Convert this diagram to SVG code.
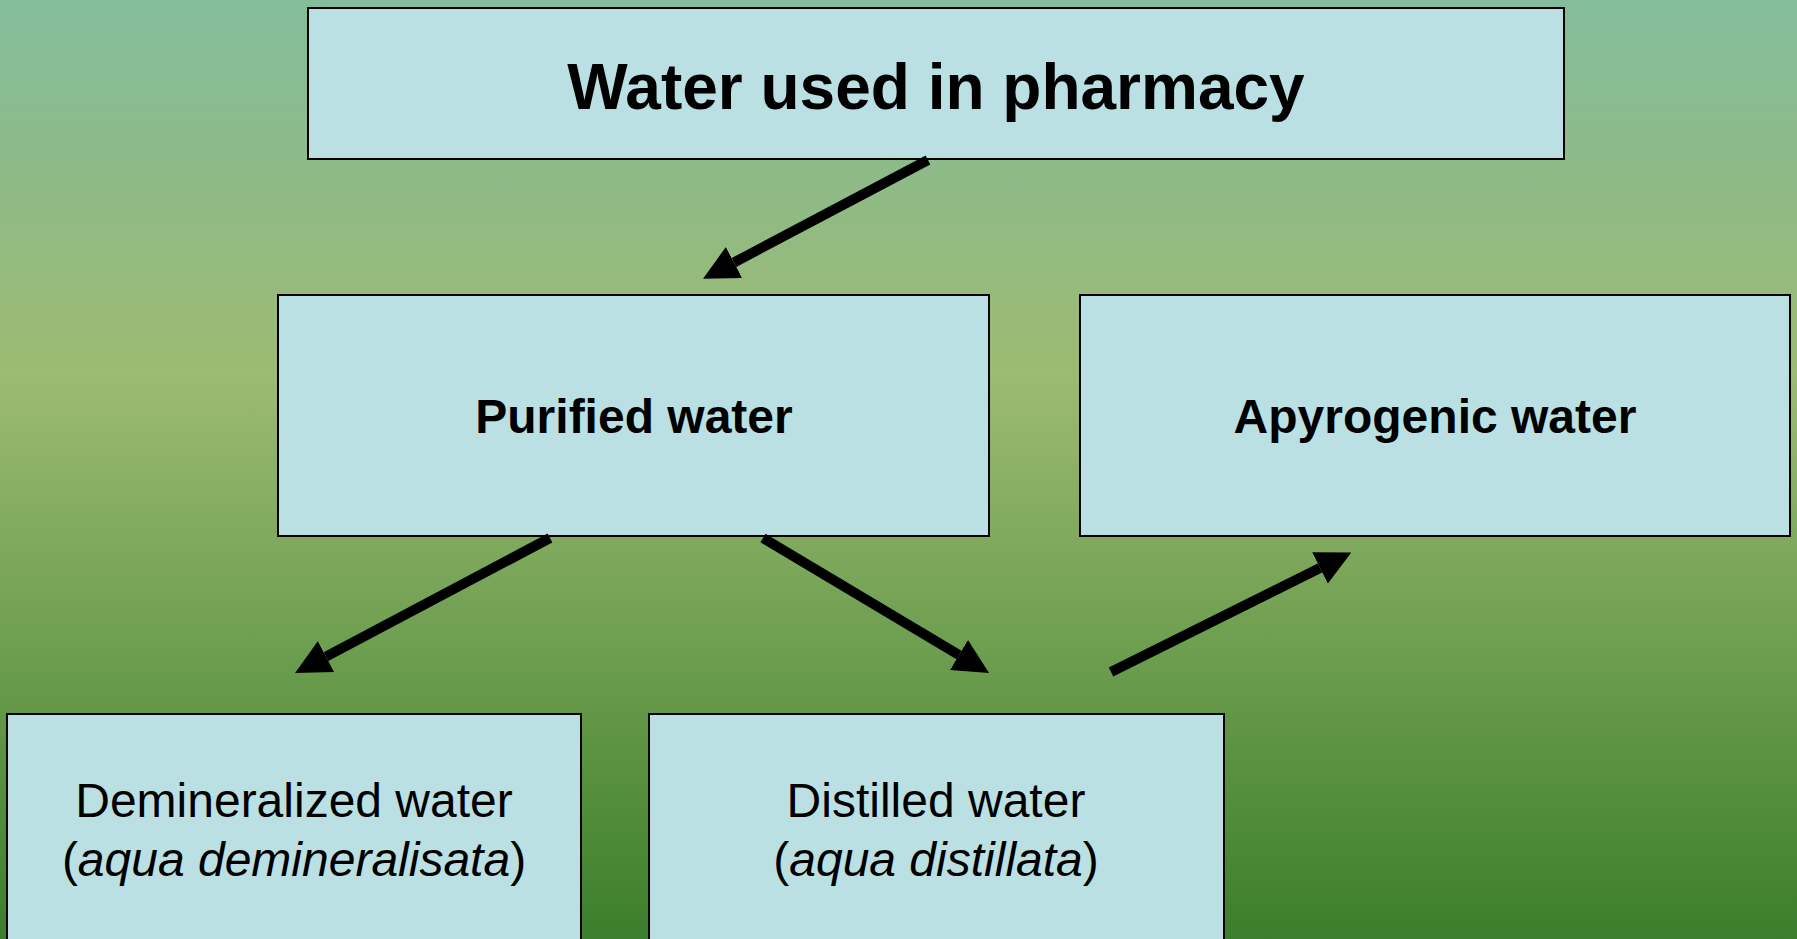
<svg xmlns="http://www.w3.org/2000/svg" width="1797" height="939" viewBox="0 0 1797 939">
<defs>
<linearGradient id="bg" x1="0" y1="0" x2="0" y2="1">
<stop offset="0" stop-color="#84be9c"/>
<stop offset="0.2" stop-color="#8fba86"/>
<stop offset="0.4" stop-color="#9cbb72"/>
<stop offset="0.7" stop-color="#6c9d4e"/>
<stop offset="1" stop-color="#3b7e2b"/>
</linearGradient>
<marker id="ah" viewBox="0 0 3.5 3.5" markerUnits="strokeWidth" markerWidth="3.5" markerHeight="3.5" refX="0" refY="1.75" orient="auto">
<path d="M0,0 L3.5,1.75 L0,3.5 z" fill="#000"/>
</marker>
<style>
.box{fill:#bae0e3;stroke:#000;stroke-width:2}
.t{font-family:"Liberation Sans",Arial,sans-serif;fill:#000;text-anchor:middle}
.b{font-weight:bold}
.c{stroke:#000;stroke-width:10;fill:none;marker-end:url(#ah)}
</style>
</defs>
<rect x="0" y="0" width="1797" height="939" fill="url(#bg)"/>
<g id="node-top">
<rect class="box" x="308" y="8" width="1256" height="151"/>
<text class="t b" x="936" y="109" font-size="64">Water used in pharmacy</text>
</g>
<g id="node-purified">
<rect class="box" x="278" y="295" width="711" height="241"/>
<text class="t b" x="634" y="433" font-size="48">Purified water</text>
</g>
<g id="node-apyrogenic">
<rect class="box" x="1080" y="295" width="710" height="241"/>
<text class="t b" x="1435" y="433" font-size="48">Apyrogenic water</text>
</g>
<g id="node-demineralized">
<rect class="box" x="7" y="714" width="574" height="240"/>
<text class="t" x="294" y="817" font-size="48">Demineralized water</text>
<text class="t" x="294" y="876" font-size="48">(<tspan font-style="italic">aqua demineralisata</tspan>)</text>
</g>
<g id="node-distilled">
<rect class="box" x="649" y="714" width="575" height="240"/>
<text class="t" x="936" y="817" font-size="48">Distilled water</text>
<text class="t" x="936" y="876" font-size="48">(<tspan font-style="italic">aqua distillata</tspan>)</text>
</g>
<g id="connectors">
<path class="c" d="M928,160 L734,262.5"/>
<path class="c" d="M550,538 L326,656.6"/>
<path class="c" d="M763,538 L959,655"/>
<path class="c" d="M1111,672 L1320,568"/>
</g>
</svg>
